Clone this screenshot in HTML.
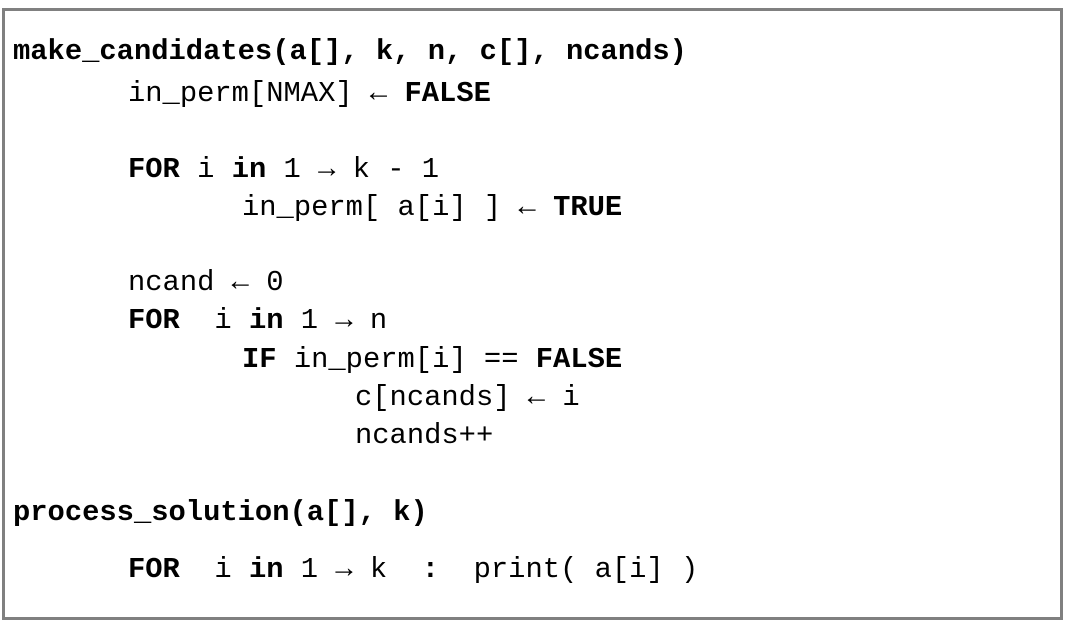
<!DOCTYPE html>
<html><head><meta charset="utf-8"><style>
html,body{margin:0;padding:0;background:#fff;}
body{width:1067px;height:627px;position:relative;overflow:hidden;}
.box{position:absolute;left:2px;top:8px;width:1061px;height:612px;border:3px solid #808080;box-sizing:border-box;background:#fff;}
.l{position:absolute;font-family:"Liberation Mono","DejaVu Sans Mono",monospace;font-size:28.8px;line-height:28.8px;white-space:pre;color:#000;}
b{font-weight:bold;}
</style></head><body>
<div class="box"></div>
<div class="l" style="left:13px;top:38px"><b>make_candidates(a[], k, n, c[], ncands)</b></div>
<div class="l" style="left:128px;top:80px">in_perm[NMAX] ← <b>FALSE</b></div>
<div class="l" style="left:128px;top:156px"><b>FOR</b> i <b>in</b> 1 → k - 1</div>
<div class="l" style="left:242px;top:194px">in_perm[ a[i] ] ← <b>TRUE</b></div>
<div class="l" style="left:128px;top:269px">ncand ← 0</div>
<div class="l" style="left:128px;top:307px"><b>FOR</b>  i <b>in</b> 1 → n</div>
<div class="l" style="left:242px;top:346px"><b>IF</b> in_perm[i] == <b>FALSE</b></div>
<div class="l" style="left:355px;top:384px">c[ncands] ← i</div>
<div class="l" style="left:355px;top:422px">ncands++</div>
<div class="l" style="left:13px;top:499px"><b>process_solution(a[], k)</b></div>
<div class="l" style="left:128px;top:556px"><b>FOR</b>  i <b>in</b> 1 → k  <b>:</b>  print( a[i] )</div>
</body></html>
